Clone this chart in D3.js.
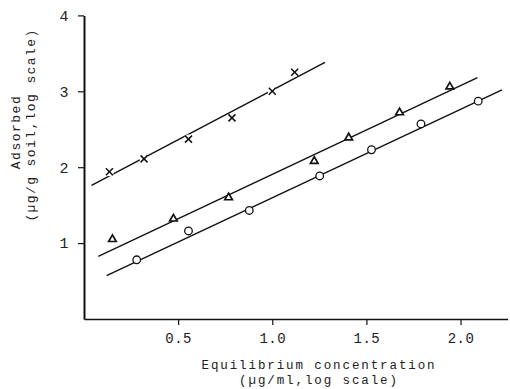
<!DOCTYPE html>
<html><head><meta charset="utf-8">
<script src="https://cdn.jsdelivr.net/npm/d3@7"></script>
<style>
html,body{margin:0;padding:0;background:#fff;}
svg{display:block;}
text{font-family:"Liberation Mono","DejaVu Sans Mono",monospace;fill:#222;}
</style></head>
<body>
<svg id="chart" width="510" height="389"></svg>
<script>
// ---- data (log-scale values) ----
const xTicks = [0.5, 1.0, 1.5, 2.0];
const yTicks = [1, 2, 3, 4];

const crossX = [0.135, 0.319, 0.555, 0.786, 1.0, 1.119];
const crossY = [1.94, 2.11, 2.37, 2.65, 3.0, 3.25];

const triX = [0.151, 0.475, 0.768, 1.223, 1.406, 1.676, 1.943];
const triY = [1.05, 1.32, 1.60, 2.08, 2.39, 2.72, 3.06];

const circX = [0.28, 0.555, 0.878, 1.252, 1.527, 1.79, 2.094];
const circY = [0.78, 1.16, 1.43, 1.885, 2.23, 2.57, 2.87];

// fitted regression lines: [x start, y start, x end, y end]
const crossFit = [0.04, 1.76, 1.28, 3.38];
const triFit   = [0.076, 0.825, 2.09, 3.18];
const circFit  = [0.12, 0.57, 2.22, 3.02];

const xTitle = ["Equilibrium concentration", "(\u00b5g/ml,log scale)"];
const yTitle = ["Adsorbed", "(\u00b5g/g soil,log scale)"];

// ---- drawing ----
const svg = d3.select("#chart");
const x = d3.scaleLinear().domain([0, 2.25]).range([84, 507.6]);
const y = d3.scaleLinear().domain([0, 4]).range([319, 15.4]);

// axes
const gx = svg.append("g").attr("transform", `translate(0,${y(0)})`)
  .call(d3.axisBottom(x).tickValues(xTicks).tickFormat(d3.format(".1f")).tickSize(6).tickSizeOuter(0));
gx.select(".domain").attr("stroke", "#111").attr("stroke-width", 1.6);
gx.selectAll(".tick line").attr("stroke", "#111").attr("stroke-width", 1.2);
gx.selectAll(".tick text").attr("y", 14).attr("font-size", 14)
  .attr("font-family", "Liberation Mono, monospace").attr("fill", "#222").attr("letter-spacing", 0.5);

const gy = svg.append("g").attr("transform", `translate(${x(0)},0)`)
  .call(d3.axisLeft(y).tickValues(yTicks).tickFormat(d3.format("d")).tickSize(6).tickSizeOuter(0));
gy.select(".domain").attr("stroke", "#111").attr("stroke-width", 2);
gy.selectAll(".tick line").attr("stroke", "#111").attr("stroke-width", 1.2);
gy.selectAll(".tick text").attr("x", -20).attr("text-anchor", "middle").attr("font-size", 15)
  .attr("font-family", "Liberation Mono, monospace").attr("fill", "#222");

// titles
svg.append("text").attr("x", 319).attr("y", 369).attr("text-anchor", "middle")
  .attr("font-size", 12.5).attr("letter-spacing", 1.9).text(xTitle[0]);
svg.append("text").attr("x", 319).attr("y", 384).attr("text-anchor", "middle")
  .attr("font-size", 12.5).attr("letter-spacing", 1.9).text(xTitle[1]);
svg.append("text").attr("transform", "translate(20,132) rotate(-90)").attr("text-anchor", "middle")
  .attr("font-size", 13).attr("letter-spacing", 1.5).text(yTitle[0]);
svg.append("text").attr("transform", "translate(35,125) rotate(-90)").attr("text-anchor", "middle")
  .attr("font-size", 13).attr("letter-spacing", 1.4).text(yTitle[1]);

// fit lines
[crossFit, triFit, circFit].forEach(f => {
  svg.append("line")
    .attr("x1", x(f[0])).attr("y1", y(f[1]))
    .attr("x2", x(f[2])).attr("y2", y(f[3]))
    .attr("stroke", "#111").attr("stroke-width", 1.4);
});

// markers
const zip = (a, b) => a.map((v, i) => [v, b[i]]);

// crosses
const cg = svg.append("g");
zip(crossX, crossY).forEach(([vx, vy]) => {
  const cx = x(vx), cy = y(vy), s = 3.5;
  cg.append("circle").attr("cx", cx).attr("cy", cy).attr("r", 4.5).attr("fill", "#fff");
  cg.append("line").attr("x1", cx - s).attr("y1", cy - s).attr("x2", cx + s).attr("y2", cy + s)
    .attr("stroke", "#111").attr("stroke-width", 1.5);
  cg.append("line").attr("x1", cx - s).attr("y1", cy + s).attr("x2", cx + s).attr("y2", cy - s)
    .attr("stroke", "#111").attr("stroke-width", 1.5);
});

// triangles
const tri = d3.symbol().type(d3.symbolTriangle).size(25);
svg.append("g").selectAll("path").data(zip(triX, triY)).join("path")
  .attr("d", tri)
  .attr("transform", d => `translate(${x(d[0])},${y(d[1])})`)
  .attr("fill", "#fff").attr("stroke", "#111").attr("stroke-width", 1.7);

// circles
svg.append("g").selectAll("circle").data(zip(circX, circY)).join("circle")
  .attr("cx", d => x(d[0])).attr("cy", d => y(d[1])).attr("r", 3.8)
  .attr("fill", "#fff").attr("stroke", "#111").attr("stroke-width", 1.3);
</script>
</body></html>
